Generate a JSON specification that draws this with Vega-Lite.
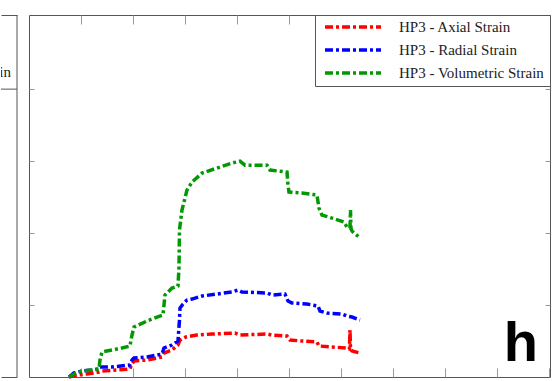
{
  "$schema": "https://vega.github.io/schema/vega-lite/v6.json",
  "padding": {"left": 0, "top": 14, "right": 0, "bottom": 0},
  "background": "white",
  "spacing": 10,
  "resolve": {"legend": {"color": "independent"}},
  "config": {
    "view": {"stroke": "#555", "strokeWidth": 1},
    "axis": {"labels": false, "title": null, "grid": false, "domain": false, "tickColor": "#999", "tickWidth": 1}
  },
  "datasets": {
    "strain": [
      {"series": "HP3 - Axial Strain", "i": 0, "x": 0.769, "y": 0},
      {"series": "HP3 - Axial Strain", "i": 1, "x": 0.923, "y": 0.028},
      {"series": "HP3 - Axial Strain", "i": 2, "x": 1.115, "y": 0.042},
      {"series": "HP3 - Axial Strain", "i": 3, "x": 1.346, "y": 0.069},
      {"series": "HP3 - Axial Strain", "i": 4, "x": 1.404, "y": 0.083},
      {"series": "HP3 - Axial Strain", "i": 5, "x": 1.692, "y": 0.097},
      {"series": "HP3 - Axial Strain", "i": 6, "x": 1.942, "y": 0.111},
      {"series": "HP3 - Axial Strain", "i": 7, "x": 1.981, "y": 0.181},
      {"series": "HP3 - Axial Strain", "i": 8, "x": 2.019, "y": 0.222},
      {"series": "HP3 - Axial Strain", "i": 9, "x": 2.269, "y": 0.236},
      {"series": "HP3 - Axial Strain", "i": 10, "x": 2.558, "y": 0.278},
      {"series": "HP3 - Axial Strain", "i": 11, "x": 2.596, "y": 0.333},
      {"series": "HP3 - Axial Strain", "i": 12, "x": 2.75, "y": 0.375},
      {"series": "HP3 - Axial Strain", "i": 13, "x": 2.865, "y": 0.444},
      {"series": "HP3 - Axial Strain", "i": 14, "x": 2.904, "y": 0.514},
      {"series": "HP3 - Axial Strain", "i": 15, "x": 3.019, "y": 0.556},
      {"series": "HP3 - Axial Strain", "i": 16, "x": 3.231, "y": 0.583},
      {"series": "HP3 - Axial Strain", "i": 17, "x": 3.519, "y": 0.597},
      {"series": "HP3 - Axial Strain", "i": 18, "x": 3.962, "y": 0.611},
      {"series": "HP3 - Axial Strain", "i": 19, "x": 4.058, "y": 0.583},
      {"series": "HP3 - Axial Strain", "i": 20, "x": 4.577, "y": 0.597},
      {"series": "HP3 - Axial Strain", "i": 21, "x": 4.673, "y": 0.583},
      {"series": "HP3 - Axial Strain", "i": 22, "x": 4.962, "y": 0.569},
      {"series": "HP3 - Axial Strain", "i": 23, "x": 5.019, "y": 0.514},
      {"series": "HP3 - Axial Strain", "i": 24, "x": 5.25, "y": 0.5},
      {"series": "HP3 - Axial Strain", "i": 25, "x": 5.538, "y": 0.486},
      {"series": "HP3 - Axial Strain", "i": 26, "x": 5.577, "y": 0.431},
      {"series": "HP3 - Axial Strain", "i": 27, "x": 5.827, "y": 0.417},
      {"series": "HP3 - Axial Strain", "i": 28, "x": 6.115, "y": 0.403},
      {"series": "HP3 - Axial Strain", "i": 29, "x": 6.163, "y": 0.389},
      {"series": "HP3 - Axial Strain", "i": 30, "x": 6.173, "y": 0.653},
      {"series": "HP3 - Axial Strain", "i": 31, "x": 6.183, "y": 0.389},
      {"series": "HP3 - Axial Strain", "i": 32, "x": 6.212, "y": 0.361},
      {"series": "HP3 - Axial Strain", "i": 33, "x": 6.365, "y": 0.333},

      {"series": "HP3 - Radial Strain", "i": 0, "x": 0.769, "y": 0},
      {"series": "HP3 - Radial Strain", "i": 1, "x": 0.865, "y": 0.056},
      {"series": "HP3 - Radial Strain", "i": 2, "x": 1.019, "y": 0.083},
      {"series": "HP3 - Radial Strain", "i": 3, "x": 1.212, "y": 0.097},
      {"series": "HP3 - Radial Strain", "i": 4, "x": 1.346, "y": 0.111},
      {"series": "HP3 - Radial Strain", "i": 5, "x": 1.365, "y": 0.139},
      {"series": "HP3 - Radial Strain", "i": 6, "x": 1.596, "y": 0.139},
      {"series": "HP3 - Radial Strain", "i": 7, "x": 1.942, "y": 0.167},
      {"series": "HP3 - Radial Strain", "i": 8, "x": 1.981, "y": 0.236},
      {"series": "HP3 - Radial Strain", "i": 9, "x": 2.019, "y": 0.264},
      {"series": "HP3 - Radial Strain", "i": 10, "x": 2.269, "y": 0.278},
      {"series": "HP3 - Radial Strain", "i": 11, "x": 2.558, "y": 0.319},
      {"series": "HP3 - Radial Strain", "i": 12, "x": 2.596, "y": 0.403},
      {"series": "HP3 - Radial Strain", "i": 13, "x": 2.75, "y": 0.444},
      {"series": "HP3 - Radial Strain", "i": 14, "x": 2.865, "y": 0.5},
      {"series": "HP3 - Radial Strain", "i": 15, "x": 2.894, "y": 0.792},
      {"series": "HP3 - Radial Strain", "i": 16, "x": 2.904, "y": 0.958},
      {"series": "HP3 - Radial Strain", "i": 17, "x": 2.962, "y": 1.014},
      {"series": "HP3 - Radial Strain", "i": 18, "x": 3.038, "y": 1.069},
      {"series": "HP3 - Radial Strain", "i": 19, "x": 3.135, "y": 1.083},
      {"series": "HP3 - Radial Strain", "i": 20, "x": 3.327, "y": 1.125},
      {"series": "HP3 - Radial Strain", "i": 21, "x": 3.615, "y": 1.153},
      {"series": "HP3 - Radial Strain", "i": 22, "x": 3.904, "y": 1.181},
      {"series": "HP3 - Radial Strain", "i": 23, "x": 4.019, "y": 1.208},
      {"series": "HP3 - Radial Strain", "i": 24, "x": 4.096, "y": 1.181},
      {"series": "HP3 - Radial Strain", "i": 25, "x": 4.577, "y": 1.167},
      {"series": "HP3 - Radial Strain", "i": 26, "x": 4.673, "y": 1.139},
      {"series": "HP3 - Radial Strain", "i": 27, "x": 4.923, "y": 1.153},
      {"series": "HP3 - Radial Strain", "i": 28, "x": 4.981, "y": 1.056},
      {"series": "HP3 - Radial Strain", "i": 29, "x": 5.058, "y": 1.028},
      {"series": "HP3 - Radial Strain", "i": 30, "x": 5.346, "y": 1.014},
      {"series": "HP3 - Radial Strain", "i": 31, "x": 5.558, "y": 0.986},
      {"series": "HP3 - Radial Strain", "i": 32, "x": 5.596, "y": 0.917},
      {"series": "HP3 - Radial Strain", "i": 33, "x": 5.731, "y": 0.889},
      {"series": "HP3 - Radial Strain", "i": 34, "x": 6.019, "y": 0.875},
      {"series": "HP3 - Radial Strain", "i": 35, "x": 6.115, "y": 0.847},
      {"series": "HP3 - Radial Strain", "i": 36, "x": 6.212, "y": 0.833},
      {"series": "HP3 - Radial Strain", "i": 37, "x": 6.365, "y": 0.792},

      {"series": "HP3 - Volumetric Strain", "i": 0, "x": 0.769, "y": 0},
      {"series": "HP3 - Volumetric Strain", "i": 1, "x": 0.865, "y": 0.042},
      {"series": "HP3 - Volumetric Strain", "i": 2, "x": 1.019, "y": 0.083},
      {"series": "HP3 - Volumetric Strain", "i": 3, "x": 1.212, "y": 0.097},
      {"series": "HP3 - Volumetric Strain", "i": 4, "x": 1.346, "y": 0.111},
      {"series": "HP3 - Volumetric Strain", "i": 5, "x": 1.365, "y": 0.236},
      {"series": "HP3 - Volumetric Strain", "i": 6, "x": 1.404, "y": 0.347},
      {"series": "HP3 - Volumetric Strain", "i": 7, "x": 1.596, "y": 0.375},
      {"series": "HP3 - Volumetric Strain", "i": 8, "x": 1.788, "y": 0.403},
      {"series": "HP3 - Volumetric Strain", "i": 9, "x": 1.942, "y": 0.431},
      {"series": "HP3 - Volumetric Strain", "i": 10, "x": 1.981, "y": 0.583},
      {"series": "HP3 - Volumetric Strain", "i": 11, "x": 2.019, "y": 0.694},
      {"series": "HP3 - Volumetric Strain", "i": 12, "x": 2.269, "y": 0.778},
      {"series": "HP3 - Volumetric Strain", "i": 13, "x": 2.462, "y": 0.833},
      {"series": "HP3 - Volumetric Strain", "i": 14, "x": 2.577, "y": 0.861},
      {"series": "HP3 - Volumetric Strain", "i": 15, "x": 2.615, "y": 1.139},
      {"series": "HP3 - Volumetric Strain", "i": 16, "x": 2.75, "y": 1.236},
      {"series": "HP3 - Volumetric Strain", "i": 17, "x": 2.865, "y": 1.264},
      {"series": "HP3 - Volumetric Strain", "i": 18, "x": 2.885, "y": 1.528},
      {"series": "HP3 - Volumetric Strain", "i": 19, "x": 2.894, "y": 2.042},
      {"series": "HP3 - Volumetric Strain", "i": 20, "x": 2.942, "y": 2.319},
      {"series": "HP3 - Volumetric Strain", "i": 21, "x": 2.981, "y": 2.431},
      {"series": "HP3 - Volumetric Strain", "i": 22, "x": 3.038, "y": 2.597},
      {"series": "HP3 - Volumetric Strain", "i": 23, "x": 3.135, "y": 2.708},
      {"series": "HP3 - Volumetric Strain", "i": 24, "x": 3.327, "y": 2.833},
      {"series": "HP3 - Volumetric Strain", "i": 25, "x": 3.615, "y": 2.903},
      {"series": "HP3 - Volumetric Strain", "i": 26, "x": 3.904, "y": 2.972},
      {"series": "HP3 - Volumetric Strain", "i": 27, "x": 4.058, "y": 3.0},
      {"series": "HP3 - Volumetric Strain", "i": 28, "x": 4.154, "y": 2.944},
      {"series": "HP3 - Volumetric Strain", "i": 29, "x": 4.577, "y": 2.944},
      {"series": "HP3 - Volumetric Strain", "i": 30, "x": 4.635, "y": 2.875},
      {"series": "HP3 - Volumetric Strain", "i": 31, "x": 4.962, "y": 2.847},
      {"series": "HP3 - Volumetric Strain", "i": 32, "x": 4.981, "y": 2.667},
      {"series": "HP3 - Volumetric Strain", "i": 33, "x": 5.0, "y": 2.569},
      {"series": "HP3 - Volumetric Strain", "i": 34, "x": 5.25, "y": 2.556},
      {"series": "HP3 - Volumetric Strain", "i": 35, "x": 5.538, "y": 2.528},
      {"series": "HP3 - Volumetric Strain", "i": 36, "x": 5.577, "y": 2.347},
      {"series": "HP3 - Volumetric Strain", "i": 37, "x": 5.635, "y": 2.25},
      {"series": "HP3 - Volumetric Strain", "i": 38, "x": 5.827, "y": 2.208},
      {"series": "HP3 - Volumetric Strain", "i": 39, "x": 6.058, "y": 2.153},
      {"series": "HP3 - Volumetric Strain", "i": 40, "x": 6.115, "y": 2.083},
      {"series": "HP3 - Volumetric Strain", "i": 41, "x": 6.173, "y": 2.069},
      {"series": "HP3 - Volumetric Strain", "i": 42, "x": 6.183, "y": 2.319},
      {"series": "HP3 - Volumetric Strain", "i": 43, "x": 6.192, "y": 2.069},
      {"series": "HP3 - Volumetric Strain", "i": 44, "x": 6.212, "y": 2.028},
      {"series": "HP3 - Volumetric Strain", "i": 45, "x": 6.346, "y": 1.944}
    ],
    "cut": [{"t": "HP3 - Volumetric Strain", "x": 1, "y": 4.17}],
    "tag": [{"t": "h", "x": 9.79, "y": 0.22}]
  },
  "hconcat": [
    {
      "width": 16,
      "height": 362,
      "view": {"stroke": null},
      "data": {"name": "cut"},
      "layer": [
        {
          "mark": {"type": "text", "align": "right", "baseline": "alphabetic", "dx": -6, "font": "Liberation Serif", "fontSize": 15, "color": "#222", "clip": true},
          "encoding": {
            "x": {"field": "x", "type": "quantitative", "scale": {"domain": [0, 1]}, "axis": {"orient": "bottom", "domain": true, "domainColor": "#555", "ticks": false}},
            "y": {"field": "y", "type": "quantitative", "scale": {"domain": [0, 5.03], "nice": false}, "axis": {"orient": "right", "domain": true, "domainColor": "#555", "values": [1, 2, 3, 4], "tickSize": -5}},
            "text": {"field": "t"}
          }
        },
        {
          "mark": {"type": "rule", "color": "#555", "strokeWidth": 1},
          "encoding": {"y": {"datum": 4, "type": "quantitative", "axis": null}}
        },
        {
          "mark": {"type": "rule", "color": "#555", "strokeWidth": 1},
          "encoding": {"x": {"datum": 1, "type": "quantitative", "axis": {"orient": "top", "domain": true, "domainColor": "#555", "ticks": false}}}
        }
      ],
      "resolve": {"axis": {"x": "independent"}}
    },
    {
      "width": 521,
      "height": 362,
      "layer": [
        {
          "data": {"name": "strain"},
          "mark": {"type": "line", "strokeWidth": 3.5, "strokeDash": [8, 3, 3, 3]},
          "encoding": {
            "x": {"field": "x", "type": "quantitative", "scale": {"domain": [0, 10.02], "nice": false}, "axis": {"orient": "bottom", "values": [1, 2, 3, 4, 5, 6, 7, 8, 9, 10], "tickSize": -9}},
            "y": {"field": "y", "type": "quantitative", "scale": {"domain": [0, 5.03], "nice": false}, "axis": {"orient": "left", "values": [1, 2, 3, 4], "tickSize": -5}},
            "order": {"field": "i"},
            "color": {
              "field": "series",
              "type": "nominal",
              "scale": {"domain": ["HP3 - Axial Strain", "HP3 - Radial Strain", "HP3 - Volumetric Strain"], "range": ["#ff0000", "#0000ff", "#009900"]},
              "legend": {
                "title": null,
                "orient": "top-right",
                "offset": 0,
                "padding": 5,
                "strokeColor": "#555",
                "fillColor": "white",
                "symbolType": "stroke",
                "symbolSize": 3136,
                "symbolStrokeWidth": 3.5,
                "symbolDash": [8, 3, 3, 3],
                "symbolOffset": 3,
                "labelOffset": 16,
                "labelFont": "Liberation Serif",
                "labelFontSize": 15,
                "labelColor": "#222",
                "clipHeight": 14,
                "rowPadding": 8
              }
            }
          }
        },
        {
          "data": {"name": "tag"},
          "mark": {"type": "text", "align": "right", "baseline": "alphabetic", "font": "Liberation Sans", "fontWeight": "bold", "fontSize": 56, "color": "black"},
          "encoding": {
            "x": {"field": "x", "type": "quantitative", "axis": {"orient": "top", "values": [1, 2, 3, 4, 5, 6, 7, 8, 9, 10], "tickSize": -9}},
            "y": {"field": "y", "type": "quantitative", "axis": {"orient": "right", "values": [1, 2, 3, 4], "tickSize": -5}},
            "text": {"field": "t"}
          }
        }
      ],
      "resolve": {"axis": {"x": "independent", "y": "independent"}}
    }
  ]
}
